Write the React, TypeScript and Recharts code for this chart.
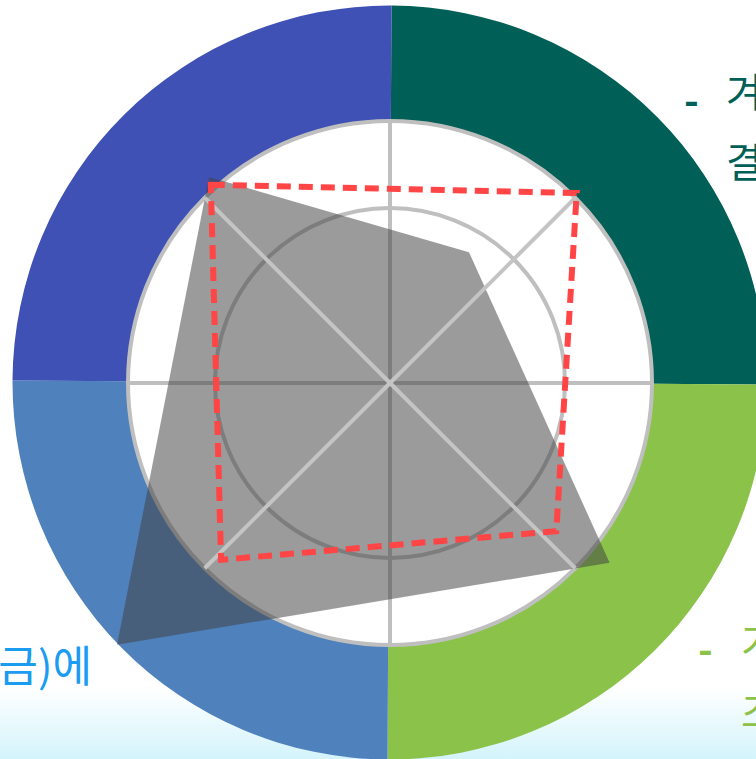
import { PieChart, Pie, Cell, RadarChart, Radar, PolarGrid, PolarAngleAxis, PolarRadiusAxis } from "recharts";

// outer ring quadrants, clockwise from 12 o'clock
const ringNames = ["q1", "q2", "q3", "q4"];
const ringValues = [1, 1, 1, 1];
const ringColors = ["#005f56", "#8bc34a", "#4f81bd", "#3f51b5"];

// radar polygons: angle (deg, counter-clockwise from 3 o'clock) and value (outer grid = 3)
const grayAngles = [131.3, 58.9, 320.7, 223.8];
const grayValues = [3.14, 1.75, 3.25, 4.33];
const redAngles = [132.1, 45.5, 318.3, 226.3];
const redValues = [3.06, 3.05, 2.55, 2.8];

const W = 756;
const H = 759;
const CX = 390;
const CY = 383;

const ringData = ringNames.map((name, i) => ({ name, value: ringValues[i] }));
const grayData = grayAngles.map((angle, i) => ({ angle, value: grayValues[i] }));
const redData = redAngles.map((angle, i) => ({ angle, value: redValues[i] }));

const layer: React.CSSProperties = { position: "absolute", left: 0, top: 0 };
const font = '"Noto Sans CJK KR", "Noto Sans", sans-serif';

function Txt({ x, y, color, size = 40, bold = false, children }: any) {
  return (
    <div style={{ ...layer, left: x, top: y, color, fontSize: size, lineHeight: 1, fontWeight: bold ? 700 : 400, whiteSpace: "nowrap" }}>
      {children}
    </div>
  );
}

export default function App() {
  return (
    <div style={{ position: "absolute", left: 0, top: 0, width: W, height: H, overflow: "hidden", background: "#fff", fontFamily: font }}>
      <div style={{ ...layer, top: 688, width: W, height: 71, background: "linear-gradient(#ffffff, #d3f4fb)" }} />

      <div style={layer}>
        <PieChart width={W} height={H} margin={{ top: 0, right: 0, bottom: 0, left: 0 }}>
          <Pie
            data={ringData}
            dataKey="value"
            cx={389.5}
            cy={382.5}
            innerRadius={262}
            outerRadius={377}
            startAngle={89.7}
            endAngle={-270.3}
            stroke="none"
            isAnimationActive={false}
          >
            {ringData.map((d, i) => (
              <Cell key={d.name} fill={ringColors[i]} />
            ))}
          </Pie>
        </PieChart>
      </div>

      <div style={layer}>
        <RadarChart width={W} height={H} data={grayData} cx={CX} cy={CY} outerRadius={262} startAngle={0} endAngle={360} margin={{ top: 0, right: 0, bottom: 0, left: 0 }}>
          <PolarGrid gridType="circle" polarRadius={[175, 262]} polarAngles={[0, 90, 180, 270]} stroke="#bfbfbf" strokeWidth={4} />
          <PolarAngleAxis dataKey="angle" type="number" domain={[0, 360]} tick={false} axisLine={false} />
          <PolarRadiusAxis domain={[0, 3]} allowDataOverflow tick={false} axisLine={false} />
          <Radar dataKey="value" fill="#424242" fillOpacity={0.53} stroke="none" dot={false} isAnimationActive={false} />
        </RadarChart>
      </div>

      <div style={layer}>
        <RadarChart width={W} height={H} data={redData} cx={CX} cy={CY} outerRadius={262} startAngle={0} endAngle={360} margin={{ top: 0, right: 0, bottom: 0, left: 0 }}>
          <PolarGrid gridType="circle" polarRadius={[1]} polarAngles={[45, 135, 225, 315]} stroke="#c4c4c4" strokeWidth={4} />
          <PolarAngleAxis dataKey="angle" type="number" domain={[0, 360]} tick={false} axisLine={false} />
          <PolarRadiusAxis domain={[0, 3]} allowDataOverflow tick={false} axisLine={false} />
          <Radar dataKey="value" fill="none" fillOpacity={0} stroke="#ff4545" strokeWidth={6} strokeDasharray="14 8" dot={false} isAnimationActive={false} />
        </RadarChart>
      </div>

      <Txt x={684} y={78} color="#005f56" bold>-</Txt>
      <Txt x={726} y={70} color="#005f56">겨</Txt>
      <Txt x={726} y={140} color="#005f56">결</Txt>

      <Txt x={698} y={627} color="#8bc34a" bold>-</Txt>
      <Txt x={741} y={620} color="#8bc34a">가</Txt>
      <Txt x={741} y={690} color="#8bc34a">조</Txt>

      <div style={{ ...layer, left: "auto", right: W - 92, top: 642, color: "#1a9cf0", fontSize: 43, lineHeight: 1, whiteSpace: "nowrap" }}>
        금)에
      </div>
    </div>
  );
}
